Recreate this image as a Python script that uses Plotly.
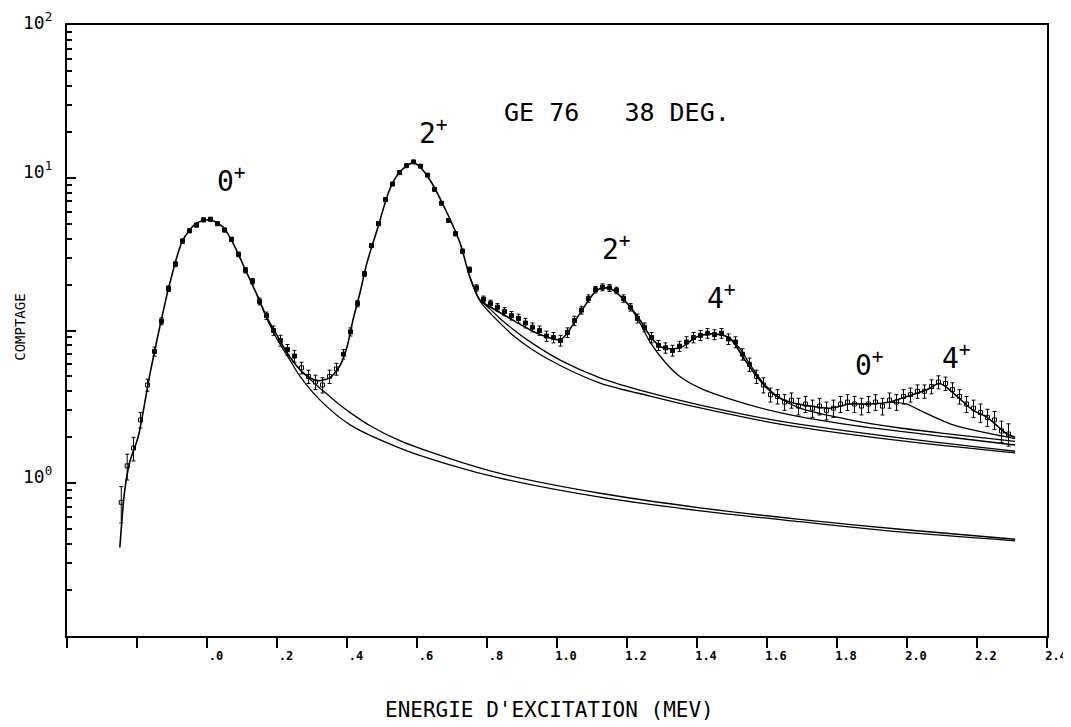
import plotly.graph_objects as go
import numpy as np

# ---------------- data ----------------
data_x = [-0.245, -0.228, -0.21, -0.19, -0.17, -0.15, -0.13, -0.11, -0.09, -0.07, -0.05, -0.03, -0.01,
          0.01, 0.03, 0.05, 0.07, 0.09, 0.11, 0.13, 0.15, 0.17, 0.19, 0.21, 0.23, 0.25, 0.27, 0.29,
          0.31, 0.33, 0.35, 0.37, 0.39, 0.41, 0.43, 0.45, 0.47, 0.49, 0.51, 0.53, 0.55, 0.57, 0.59,
          0.61, 0.63, 0.65, 0.67, 0.69, 0.71, 0.73, 0.75, 0.77, 0.79, 0.81, 0.83, 0.85, 0.87, 0.89,
          0.91, 0.93, 0.95, 0.97, 0.99, 1.01, 1.03, 1.05, 1.07, 1.09, 1.11, 1.13, 1.15, 1.17, 1.19,
          1.21, 1.23, 1.25, 1.27, 1.29, 1.31, 1.33, 1.35, 1.37, 1.39, 1.41, 1.43, 1.45, 1.47, 1.49,
          1.51, 1.53, 1.55, 1.57, 1.59, 1.61, 1.63, 1.65, 1.67, 1.69, 1.71, 1.73, 1.75, 1.77, 1.79,
          1.81, 1.83, 1.85, 1.87, 1.89, 1.91, 1.93, 1.95, 1.97, 1.99, 2.01, 2.03, 2.05, 2.07, 2.09,
          2.11, 2.13, 2.15, 2.17, 2.19, 2.21, 2.23, 2.25, 2.27, 2.29]
data_y = [0.075, 0.13, 0.17, 0.26, 0.44, 0.73, 1.15, 1.88, 2.72, 3.85, 4.5, 4.9, 5.3,
          5.35, 5.0, 4.55, 3.95, 3.15, 2.48, 2.1, 1.55, 1.25, 1.0, 0.86, 0.75, 0.68, 0.57, 0.5,
          0.46, 0.44, 0.5, 0.56, 0.7, 0.98, 1.5, 2.35, 3.6, 5.0, 7.2, 9.1, 10.8, 12.0, 12.7,
          11.9, 10.4, 8.4, 6.8, 5.25, 4.3, 3.3, 2.5, 1.9, 1.6, 1.5, 1.42, 1.33, 1.25, 1.2,
          1.12, 1.05, 1.0, 0.92, 0.9, 0.86, 0.97, 1.16, 1.36, 1.62, 1.85, 1.92, 1.9, 1.83, 1.62,
          1.42, 1.2, 1.05, 0.9, 0.8, 0.77, 0.74, 0.79, 0.84, 0.9, 0.93, 0.96, 0.94, 0.96, 0.88,
          0.84, 0.7, 0.6, 0.5, 0.44, 0.38, 0.37, 0.34, 0.35, 0.32, 0.33, 0.31, 0.32, 0.3, 0.31,
          0.33, 0.34, 0.33, 0.32, 0.33, 0.34, 0.32, 0.35, 0.34, 0.37, 0.38, 0.4, 0.4, 0.43, 0.46,
          0.45, 0.41, 0.37, 0.33, 0.31, 0.29, 0.27, 0.26, 0.22, 0.21]
data_err = [0.02, 0.025, 0.03, 0.03, 0.04, 0.05, 0.06, 0.08, 0.1, 0.12, 0.13, 0.14, 0.15,
            0.15, 0.14, 0.13, 0.12, 0.11, 0.1, 0.09, 0.08, 0.07, 0.07, 0.07, 0.06, 0.06, 0.05, 0.05,
            0.05, 0.05, 0.05, 0.05, 0.05, 0.06, 0.07, 0.09, 0.11, 0.13, 0.16, 0.18, 0.2, 0.21, 0.22,
            0.21, 0.2, 0.18, 0.16, 0.14, 0.13, 0.11, 0.1, 0.09, 0.08, 0.08, 0.08, 0.08, 0.08, 0.08,
            0.08, 0.07, 0.07, 0.07, 0.07, 0.07, 0.07, 0.08, 0.08, 0.09, 0.09, 0.1, 0.1, 0.09, 0.09,
            0.08, 0.08, 0.07, 0.07, 0.06, 0.06, 0.06, 0.06, 0.07, 0.07, 0.07, 0.07, 0.07, 0.07, 0.07,
            0.07, 0.06, 0.06, 0.05, 0.05, 0.04, 0.04, 0.04, 0.04, 0.04, 0.04, 0.04, 0.04, 0.04, 0.04,
            0.04, 0.04, 0.04, 0.04, 0.04, 0.04, 0.04, 0.04, 0.04, 0.04, 0.04, 0.04, 0.04, 0.045, 0.045,
            0.045, 0.045, 0.04, 0.04, 0.04, 0.04, 0.035, 0.035, 0.035, 0.035]

# total fit
fit_x = [-0.249, -0.235, -0.22, -0.197, -0.163, -0.134, -0.106, -0.069, -0.029, 0.009, 0.046, 0.074,
         0.114, 0.143, 0.171, 0.2, 0.237, 0.274, 0.314, 0.35, 0.38, 0.40, 0.417, 0.437, 0.457, 0.486,
         0.523, 0.551, 0.586, 0.603, 0.637, 0.686, 0.723, 0.751, 0.78, 0.809, 0.874, 0.943, 1.009,
         1.029, 1.066, 1.114, 1.14, 1.16, 1.209, 1.237, 1.274, 1.303, 1.351, 1.40, 1.446, 1.494, 1.537,
         1.58, 1.623, 1.666, 1.723, 1.78, 1.837, 1.894, 1.951, 2.0, 2.057, 2.094, 2.143, 2.189, 2.229,
         2.286, 2.309]
fit_y = [0.038, 0.09, 0.14, 0.2, 0.52, 1.08, 2.05, 3.9, 5.06, 5.3, 4.76, 3.74,
         2.38, 1.71, 1.22, 0.93, 0.67, 0.53, 0.47, 0.49, 0.59, 0.78, 1.17, 1.76, 2.77, 4.55,
         8.5, 10.9, 12.5, 12.1, 9.67, 5.88, 3.74, 2.24, 1.58, 1.43, 1.17, 0.96, 0.87,
         0.96, 1.30, 1.84, 1.9, 1.84, 1.43, 1.17, 0.87, 0.77, 0.77, 0.91, 0.95, 0.89, 0.64,
         0.47, 0.378, 0.34, 0.32, 0.31, 0.33, 0.33, 0.34, 0.37, 0.41, 0.45, 0.37, 0.30, 0.27,
         0.21, 0.20]

# partial sums (component tails)
a_x = [0.143, 0.171, 0.2, 0.237, 0.266, 0.323, 0.409, 0.551, 0.694, 0.837, 1.123, 1.409, 1.694, 1.98, 2.309]
a_y = [1.71, 1.2, 0.88, 0.64, 0.5, 0.35, 0.241, 0.17, 0.132, 0.108, 0.081, 0.066, 0.056, 0.048, 0.042]
a2_x = [0.274, 0.317, 0.351, 0.38, 0.409, 0.466, 0.551, 0.694, 0.837, 1.123, 1.409, 1.694, 1.98, 2.309]
a2_y = [0.53, 0.43, 0.37, 0.325, 0.29, 0.238, 0.19, 0.145, 0.116, 0.086, 0.069, 0.058, 0.05, 0.043]
b_x = [0.751, 0.78, 0.809, 0.837, 0.874, 0.931, 1.009, 1.123, 1.266, 1.409, 1.637, 1.98, 2.309]
b_y = [2.24, 1.56, 1.30, 1.12, 0.93, 0.745, 0.59, 0.453, 0.372, 0.311, 0.244, 0.19, 0.158]
b2_x = [0.78, 0.809, 0.837, 0.874, 0.931, 1.009, 1.123, 1.266, 1.409, 1.637, 1.98, 2.309]
b2_y = [1.58, 1.38, 1.2, 1.02, 0.82, 0.64, 0.49, 0.39, 0.325, 0.255, 0.198, 0.162]
c_x = [1.209, 1.237, 1.266, 1.309, 1.351, 1.409, 1.523, 1.637, 1.837, 2.123, 2.309]
c_y = [1.43, 1.12, 0.84, 0.62, 0.50, 0.42, 0.34, 0.29, 0.241, 0.20, 0.178]
d_x = [1.494, 1.523, 1.551, 1.594, 1.637, 1.694, 1.837, 1.98, 2.123, 2.309]
d_y = [0.89, 0.76, 0.60, 0.44, 0.36, 0.31, 0.26, 0.23, 0.21, 0.188]
e_x = [1.951, 2.0, 2.037, 2.08, 2.123, 2.2, 2.309]
e_y = [0.34, 0.33, 0.30, 0.27, 0.245, 0.22, 0.196]

x_tickvals = [-0.4, -0.2, 0.0, 0.2, 0.4, 0.6, 0.8, 1.0, 1.2, 1.4, 1.6, 1.8, 2.0, 2.2, 2.4]
x_ticktext = ["", "", ".0", ".2", ".4", ".6", ".8", "1.0", "1.2", "1.4", "1.6", "1.8", "2.0", "2.2", "2.4"]
y_major = [0.01, 0.1, 1, 10, 100]
y_labels = [(100, "10<sup>2</sup>", 4), (10, "10<sup>1</sup>", 8), (0.1, "10<sup>0</sup>", 8)]

peak_labels = [(0.071, 9.67, "0<sup>+</sup>"), (0.646, 20.2, "2<sup>+</sup>"), (1.169, 3.47, "2<sup>+</sup>"),
               (1.471, 1.68, "4<sup>+</sup>"), (1.894, 0.61, "0<sup>+</sup>"), (2.14, 0.68, "4<sup>+</sup>")]

FONT = "DejaVu Sans Mono"

fig = go.Figure()

symbols = ["square" if v >= 0.6 else "square-open" for v in data_y]
fig.add_trace(go.Scatter(
    x=data_x, y=data_y, mode="markers",
    marker=dict(symbol=symbols, size=4, color="black", line=dict(color="black", width=1)),
    error_y=dict(type="data", array=data_err, color="black", thickness=1, width=2),
    showlegend=False, hoverinfo="skip"))

for cx, cy in [(a_x, a_y), (a2_x, a2_y), (b_x, b_y), (b2_x, b2_y), (c_x, c_y), (d_x, d_y), (e_x, e_y)]:
    fig.add_trace(go.Scatter(x=cx, y=cy, mode="lines",
                             line=dict(color="black", width=1.3, shape="spline", smoothing=0.8),
                             showlegend=False, hoverinfo="skip"))

fig.add_trace(go.Scatter(x=fit_x, y=fit_y, mode="lines",
                         line=dict(color="black", width=1.6, shape="spline", smoothing=0.8),
                         showlegend=False, hoverinfo="skip"))

minor_vals = [m * 10.0 ** e for e in range(-2, 2) for m in range(2, 10)]

# the page body adds an 8 px offset; the figure is sized to fill the 1071x727 window
fig.update_layout(
    width=1063, height=719,
    margin=dict(l=59, r=24, t=17, b=91, autoexpand=False),
    paper_bgcolor="white", plot_bgcolor="white",
    font=dict(family=FONT, color="black"),
    xaxis=dict(range=[-0.4, 2.4], tickmode="array", tickvals=x_tickvals, ticktext=x_ticktext,
               ticks="outside", ticklen=10, tickwidth=2, tickcolor="black",
               showline=True, linewidth=2, linecolor="black", mirror=True,
               showgrid=False, zeroline=False,
               tickfont=dict(family=FONT, size=12, weight="bold"), ticklabelshift=9,
               ticklabelstandoff=-2),
    yaxis=dict(type="log", range=[-2, 2], tickmode="array", tickvals=y_major,
               ticks="inside", ticklen=9, tickwidth=2, tickcolor="black", showticklabels=False,
               minor=dict(tickmode="array", tickvals=minor_vals, ticks="inside", ticklen=5,
                          tickwidth=1.5, tickcolor="black", showgrid=False),
               showline=True, linewidth=2, linecolor="black", mirror=True,
               showgrid=False, zeroline=False),
)

for val, txt, shift in y_labels:
    fig.add_annotation(x=-0.0306, xref="paper", y=np.log10(val), yref="y", text=txt,
                       showarrow=False, xanchor="center", yanchor="middle", yshift=shift,
                       font=dict(family=FONT, size=18))

for px, py, txt in peak_labels:
    fig.add_annotation(x=px, y=np.log10(py), xref="x", yref="y", text=txt, showarrow=False,
                       xanchor="center", yanchor="middle",
                       font=dict(family=FONT, size=28))

fig.add_annotation(x=0.561, xref="paper", y=0.856, yref="paper", text="GE 76   38 DEG.",
                   showarrow=False, xanchor="center", yanchor="middle",
                   font=dict(family=FONT, size=25))
fig.add_annotation(x=0.492, xref="paper", y=-0.121, yref="paper", text="ENERGIE D'EXCITATION (MEV)",
                   showarrow=False, xanchor="center", yanchor="middle",
                   font=dict(family=FONT, size=21))
fig.add_annotation(x=-0.048, xref="paper", y=0.506, yref="paper", text="COMPTAGE", textangle=-90,
                   showarrow=False, xanchor="center", yanchor="middle",
                   font=dict(family=FONT, size=14))

fig.write_html("out.html")
